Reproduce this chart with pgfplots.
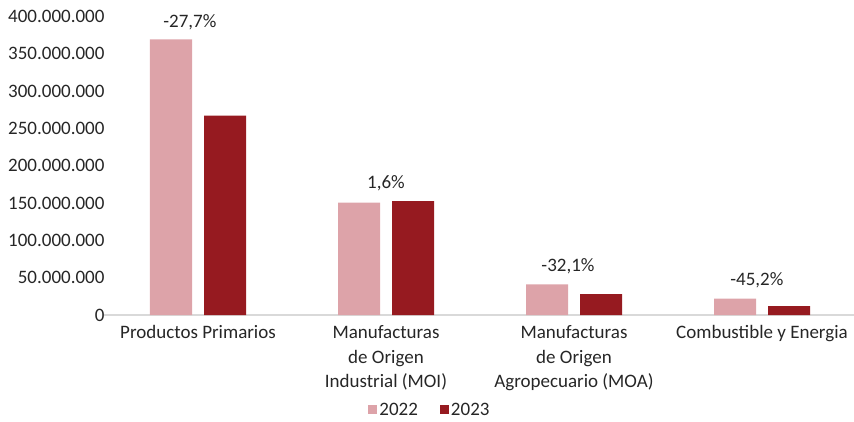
\documentclass[border=0pt]{standalone}
\usepackage{fontspec}
\setmainfont{Carlito}
\usepackage{pgfplots}
\pgfplotsset{compat=1.18}
\definecolor{c22}{HTML}{DDA3A9}
\definecolor{c23}{HTML}{961A20}
\definecolor{txt}{HTML}{262626}
\definecolor{axl}{HTML}{D9D9D9}
\begin{document}
\begin{tikzpicture}
\begin{axis}[
    at={(104pt,106pt)}, anchor=south west,
    scale only axis, width=752pt, height=298.4pt,
    xmin=-0.5, xmax=3.5, ymin=0, ymax=400000000,
    clip=false,
    ybar, bar width=42pt,
    xtick={0,1,2,3},
    xticklabels={Productos Primarios, {Manufacturas\\de Origen\\Industrial (MOI)}, {Manufacturas\\de Origen\\Agropecuario (MOA)}, Combustible y Energia},
    ytick={0,50000000,100000000,150000000,200000000,250000000,300000000,350000000,400000000},
    scaled y ticks=false,
    /pgf/number format/assume math mode=true,
    yticklabel style={/pgf/number format/fixed, /pgf/number format/precision=0, /pgf/number format/1000 sep={.}, xshift=4pt},
    axis x line=bottom, axis y line=left,
    axis line style={-},
    y axis line style={draw=none},
    x axis line style={draw=axl, line width=1.5pt},
    major tick length=0pt,
    tick label style={font=\fontsize{19}{24.5}\selectfont, text=txt},
    xticklabel style={align=center, yshift=-7pt},
    legend columns=2,
    legend style={draw=none, at={(0.4335,-0.318)}, anchor=center,
        font=\fontsize{19}{22}\selectfont, text=txt,
        /tikz/every even column/.append style={column sep=20pt}},
    legend image code/.code={\fill[#1] (0pt,-4.5pt) rectangle (9pt,4.5pt);},
]
\addplot[fill=c22, draw=none, bar shift=-27pt] coordinates {(0,369600000) (1,150500000) (2,41200000) (3,21900000)};
\addplot[fill=c23, draw=none, bar shift=27pt] coordinates {(0,267200000) (1,152800000) (2,28000000) (3,12000000)};
\legend{2022,2023}
\node[text=txt, font=\fontsize{19}{22}\selectfont, anchor=center, yshift=17pt] at (axis cs:-0.043,369600000) {-27,7\%};
\node[text=txt, font=\fontsize{19}{22}\selectfont, anchor=center, yshift=18pt] at (axis cs:1,152800000) {1,6\%};
\node[text=txt, font=\fontsize{19}{22}\selectfont, anchor=center, yshift=18pt] at (axis cs:1.968,41200000) {-32,1\%};
\node[text=txt, font=\fontsize{19}{22}\selectfont, anchor=center, yshift=18pt] at (axis cs:2.973,21900000) {-45,2\%};
\end{axis}
\pgfresetboundingbox
\path[use as bounding box] (0,0) rectangle (854pt,421pt);
\end{tikzpicture}
\end{document}
